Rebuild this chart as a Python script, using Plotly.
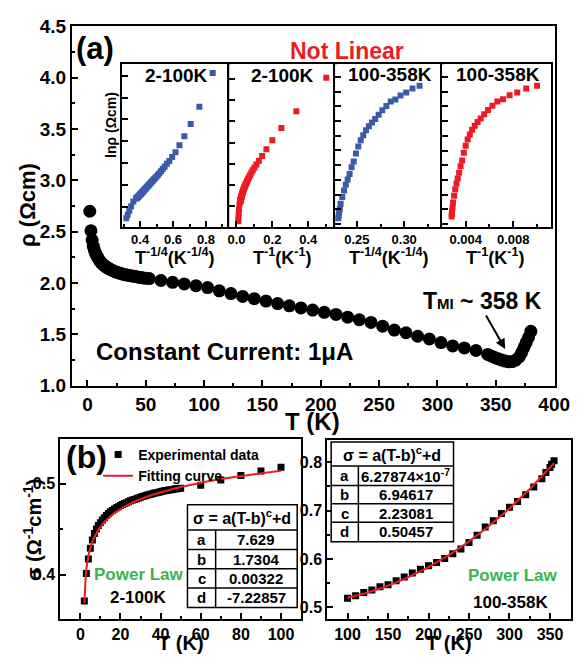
import numpy as np
import plotly.graph_objects as go

W, H = 587, 664
FONT = "Liberation Sans, Arial, Helvetica, sans-serif"
BLUE = "#3b5ba9"
RED = "#ed1c24"
GREEN = "#39b54a"

# ---------------- data ----------------
# panel (a): resistivity vs temperature
T_a = [2, 3, 4, 5, 6, 7, 8, 9, 10, 11, 12, 13, 14, 15, 16, 17, 18, 19, 20,
       22, 24, 26, 28, 30, 32, 34, 36, 38, 40, 42, 44, 46, 48, 50,
       53, 63, 73, 83, 93, 103, 113, 123, 133, 143, 153, 163, 173, 183, 193,
       203, 213, 223, 233, 243, 253, 263, 273, 283, 293, 303, 313, 323, 333, 343,
       346, 349, 352, 355, 358, 361, 364, 367, 370, 372, 374, 376, 378, 380]
rho_a = [2.70, 2.51, 2.42, 2.36, 2.32, 2.29, 2.265, 2.245, 2.225, 2.21, 2.195, 2.185,
         2.175, 2.165, 2.157, 2.150, 2.143, 2.137, 2.131,
         2.120, 2.110, 2.102, 2.095, 2.088, 2.082, 2.078, 2.074, 2.070, 2.066, 2.062,
         2.058, 2.054, 2.050, 2.047,
         2.044, 2.025, 2.007, 1.992, 1.975, 1.956, 1.925, 1.898, 1.870, 1.848, 1.825,
         1.800, 1.778, 1.758, 1.737, 1.715, 1.695, 1.668, 1.643, 1.617, 1.580, 1.542,
         1.516, 1.482, 1.455, 1.420, 1.388, 1.368, 1.343, 1.305,
         1.29, 1.275, 1.262, 1.25, 1.24, 1.233, 1.235, 1.25, 1.28, 1.32, 1.37, 1.42,
         1.47, 1.53]

# panel (b) left: conductivity 2-100 K
T_b1 = list(range(2, 51)) + [60, 70, 80, 90, 100]
sig_b1 = [0.371, 0.401, 0.417, 0.429, 0.438, 0.445, 0.450, 0.454, 0.457, 0.460,
          0.4625, 0.465, 0.467, 0.469, 0.4705, 0.472, 0.4733, 0.4746, 0.4758, 0.4769,
          0.478, 0.479, 0.480, 0.481, 0.4818, 0.4826, 0.4834, 0.4842, 0.485, 0.4857,
          0.4864, 0.4871, 0.4877, 0.4883, 0.4889, 0.4895, 0.490, 0.4905, 0.491, 0.4915,
          0.492, 0.4924, 0.4928, 0.4932, 0.4936, 0.494, 0.4943, 0.4946, 0.4949,
          0.4982, 0.5039, 0.5089, 0.5138, 0.5178]

# panel (b) right: conductivity 100-358 K
T_b2 = [100, 110, 120, 130, 140, 150, 160, 170, 180, 190, 200, 210, 220, 230, 240,
        250, 260, 270, 280, 290, 300, 310, 320, 330, 340, 345, 350, 352, 355]
sig_b2 = [0.519, 0.524, 0.531, 0.536, 0.543, 0.547, 0.555, 0.563, 0.571, 0.579,
          0.586, 0.593, 0.601, 0.611, 0.621, 0.634, 0.649, 0.666, 0.679, 0.694,
          0.707, 0.719, 0.733, 0.749, 0.766, 0.779, 0.789, 0.796, 0.803]

# fitted parameters printed in the tables: sigma = a(T-b)^c + d
fit1 = dict(a=7.629, b=1.7304, c=0.00322, d=-7.22857)
fit2 = dict(a=6.27874e-7, b=6.94617, c=2.23081, d=0.50457)
fit1_labels = ["7.629", "1.7304", "0.00322", "-7.22857"]
fit2_labels = ["6.27874×10<sup>-7</sup>", "6.94617", "2.23081", "0.50457"]

# derived quantities for the insets (ln rho = -ln sigma) and fit curves
Tb1 = np.array(T_b1, float)
Tb2 = np.array(T_b2, float)
ln_rho1 = -np.log(np.array(sig_b1))
ln_rho2 = -np.log(np.array(sig_b2))
Tf1 = np.linspace(2, 100, 400)
Tf2 = np.linspace(100, 355, 300)
sf1 = fit1["a"] * (Tf1 - fit1["b"]) ** fit1["c"] + fit1["d"]
sf2 = fit2["a"] * (Tf2 - fit2["b"]) ** fit2["c"] + fit2["d"]


def fx(p):
    return p / W


def fy(p):
    return 1 - p / H


fig = go.Figure()
fig.add_trace(go.Scatter(x=T_a, y=rho_a, mode="markers", xaxis="x", yaxis="y",
                         marker=dict(symbol="circle", size=13, color="black"),
                         showlegend=False))
fig.add_trace(go.Scatter(x=Tb1 ** -0.25, y=ln_rho1, mode="markers", xaxis="x2", yaxis="y2",
                         marker=dict(symbol="square", size=6, color=BLUE), showlegend=False))
fig.add_trace(go.Scatter(x=1 / Tb1, y=ln_rho1, mode="markers", xaxis="x3", yaxis="y3",
                         marker=dict(symbol="square", size=6, color=RED), showlegend=False))
fig.add_trace(go.Scatter(x=Tb2 ** -0.25, y=ln_rho2, mode="markers", xaxis="x4", yaxis="y4",
                         marker=dict(symbol="square", size=6, color=BLUE), showlegend=False))
fig.add_trace(go.Scatter(x=1 / Tb2, y=ln_rho2, mode="markers", xaxis="x5", yaxis="y5",
                         marker=dict(symbol="square", size=6, color=RED), showlegend=False))
fig.add_trace(go.Scatter(x=T_b1, y=sig_b1, mode="markers", xaxis="x6", yaxis="y6",
                         name="Experimental data",
                         marker=dict(symbol="square", size=7, color="black")))
fig.add_trace(go.Scatter(x=Tf1, y=sf1, mode="lines", xaxis="x6", yaxis="y6",
                         name="Fitting curve", line=dict(color=RED, width=2)))
fig.add_trace(go.Scatter(x=T_b2, y=sig_b2, mode="markers", xaxis="x7", yaxis="y7",
                         marker=dict(symbol="square", size=7, color="black"), showlegend=False))
fig.add_trace(go.Scatter(x=Tf2, y=sf2, mode="lines", xaxis="x7", yaxis="y7",
                         line=dict(color=RED, width=2), showlegend=False))


def axis(x0, x1, rng, anchor, horizontal=True, size=16, lw=2, **kw):
    if horizontal:
        dom = [fx(x0), fx(x1)]
    else:
        dom = [fy(x1), fy(x0)]
    d = dict(domain=dom, range=rng, anchor=anchor, showline=True, linewidth=lw,
             linecolor="black", mirror=True, ticks="inside", ticklen=6, tickwidth=1.5,
             tickcolor="black", showgrid=False, zeroline=False,
             tickfont=dict(family=FONT, size=size, color="black", weight="bold"))
    d.update(kw)
    return d


MINOR = lambda dt: dict(ticks="inside", ticklen=3, dtick=dt, tickcolor="black")

lay = dict(
    xaxis=axis(72, 569, [-13.3, 400.3], "y", True, 19, dtick=50, minor=MINOR(25)),
    yaxis=axis(17, 388, [1.0, 4.5], "x", False, 19, dtick=0.5, tickformat=".1f",
               minor=MINOR(0.25)),
    xaxis2=axis(124, 234, [0.2926, 0.941], "y2", True, 13, lw=1.5, dtick=0.2,
                tickformat=".1f", minor=MINOR(0.1)),
    yaxis2=axis(56, 224, [0.6382, 1.0116], "x2", False, 13, lw=1.5, tick0=0.985,
                dtick=0.05, showticklabels=False),
    xaxis3=axis(234, 343, [-0.0403, 0.549], "y3", True, 13, lw=1.5, dtick=0.2,
                tickformat=".1f", minor=MINOR(0.1)),
    yaxis3=axis(56, 224, [0.6447, 1.0231], "x3", False, 13, lw=1.5, tick0=0.988,
                dtick=0.049, showticklabels=False),
    xaxis4=axis(343, 453, [0.227, 0.3398], "y4", True, 13, lw=1.5, dtick=0.05,
                tickformat=".2f", minor=MINOR(0.025)),
    yaxis4=axis(56, 224, [0.1907, 0.7264], "x4", False, 13, lw=1.5, tick0=0.685,
                dtick=0.0485, showticklabels=False),
    xaxis5=axis(453, 565, [0.002001, 0.011143], "y5", True, 13, lw=1.5, dtick=0.004,
                tickformat=".3f", minor=MINOR(0.002)),
    yaxis5=axis(56, 224, [0.1849, 0.7273], "x5", False, 13, lw=1.5, tick0=0.6844,
                dtick=0.049, showticklabels=False),
    xaxis6=axis(60, 308, [-10, 110], "y6", True, 16, dtick=20, minor=MINOR(10)),
    yaxis6=axis(443, 629, [0.351, 0.549], "x6", False, 16, dtick=0.1, tickformat=".1f",
                minor=MINOR(0.05)),
    xaxis7=axis(335, 586, [75, 376], "y7", True, 16, dtick=50, minor=MINOR(25)),
    yaxis7=axis(444, 629, [0.476, 0.846], "x7", False, 16, dtick=0.1, tickformat=".1f",
                minor=MINOR(0.05)),
)

fig.update_layout(
    width=W, height=H, margin=dict(l=0, r=0, t=0, b=0),
    paper_bgcolor="white", plot_bgcolor="white",
    showlegend=True,
    legend=dict(x=fx(99), y=fy(443), xanchor="left", yanchor="top",
                bgcolor="rgba(0,0,0,0)", borderwidth=0, itemwidth=30,
                tracegroupgap=0,
                font=dict(family=FONT, size=14, color="black", weight="bold")),
    **lay,
)


def txt(x, y, s, size, color="black", angle=0):
    fig.add_annotation(x=fx(x), y=fy(y), xref="paper", yref="paper", text=s,
                       showarrow=False, textangle=angle, xanchor="center", yanchor="middle",
                       font=dict(family=FONT, size=size, color=color, weight="bold"))


# axis titles
txt(320, 425, "T (K)", 24)
txt(26, 201, "ρ (Ωcm)", 22, angle=-90)
txt(178, 255, "T<sup>-1/4</sup>(K<sup>-1/4</sup>)", 18)
txt(288, 255, "T<sup>-1</sup>(K<sup>-1</sup>)", 18)
txt(398, 255, "T<sup>-1/4</sup>(K<sup>-1/4</sup>)", 18)
txt(508, 255, "T<sup>-1</sup>(K<sup>-1</sup>)", 18)
txt(113, 119, "lnρ (Ωcm)", 14, angle=-90)
txt(184, 654, "T (K)", 20)
txt(460, 654, "T (K)", 20)
txt(31, 537, "σ (Ω<sup>-1</sup>cm<sup>-1</sup>)", 20, angle=-90)

# panel (a) texts
txt(96, 40, "(a)", 31)
txt(355, 42, "Not Linear", 23, RED)
txt(180, 68, "2-100K", 19)
txt(289, 68, "2-100K", 19)
txt(400, 67, "100-358K", 19)
txt(511, 67, "100-358K", 19)
txt(229, 353, "Constant Current: 1μA", 24)
txt(495, 300, "T<span style='font-size:15px'>MI</span> ~ 358 K", 23)
fig.add_annotation(x=358, y=1.358, xref="x", yref="y", text="", showarrow=True,
                   ax=-20, ay=-35, arrowhead=2, arrowsize=1, arrowwidth=2,
                   arrowcolor="black")

# panel (b) texts
txt(87, 462, "(b)", 32)
txt(141, 583, "Power Law", 17, GREEN)
txt(140, 607, "2-100K", 17)
txt(526, 584, "Power Law", 17, GREEN)
txt(524, 612, "100-358K", 17)


def table(x0, xd, x1, y_lines, labels, values):
    lw = 1.5
    fig.add_shape(type="rect", xref="paper", yref="paper", x0=fx(x0), x1=fx(x1),
                  y0=fy(y_lines[0]), y1=fy(y_lines[-1]),
                  line=dict(color="black", width=lw), fillcolor="white", layer="above")
    for yl in y_lines[1:-1]:
        fig.add_shape(type="line", xref="paper", yref="paper", x0=fx(x0), x1=fx(x1),
                      y0=fy(yl), y1=fy(yl), line=dict(color="black", width=lw))
    fig.add_shape(type="line", xref="paper", yref="paper", x0=fx(xd), x1=fx(xd),
                  y0=fy(y_lines[1]), y1=fy(y_lines[-1]), line=dict(color="black", width=lw))
    txt((x0 + x1) / 2, (y_lines[0] + y_lines[1]) / 2, "σ = a(T-b)<sup>c</sup>+d", 16)
    for i, (lab, val) in enumerate(zip(labels, values)):
        yc = (y_lines[i + 1] + y_lines[i + 2]) / 2
        txt((x0 + xd) / 2, yc, lab, 15)
        txt((xd + x1) / 2, yc, val, 15)


table(191, 220, 304, [511, 537, 557, 577, 597, 617], ["a", "b", "c", "d"], fit1_labels)
table(339, 367, 465, [446, 471, 491, 510, 529, 549], ["a", "b", "c", "d"], fit2_labels)

POST = ("document.documentElement.style.margin='0';"
        "document.body.style.margin='0';"
        "document.body.style.overflow='hidden';")

fig.write_html("out.html", config={"displayModeBar": False}, post_script=POST)
